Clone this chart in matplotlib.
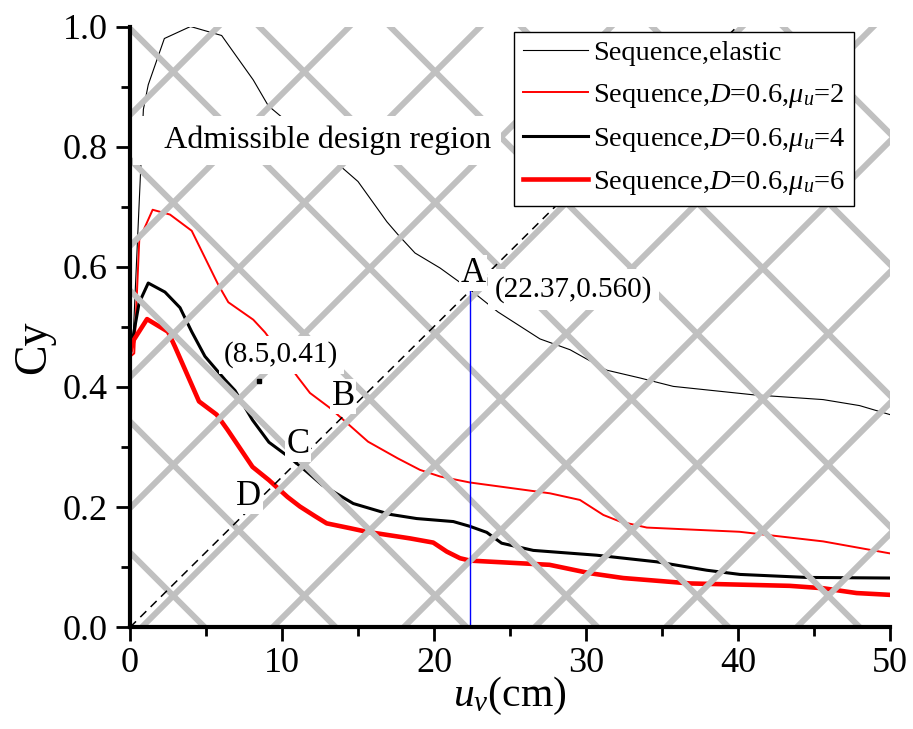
import numpy as np
import matplotlib
matplotlib.use("Agg")
import matplotlib.pyplot as plt
from matplotlib.collections import LineCollection
from matplotlib.transforms import IdentityTransform
from matplotlib.ticker import MultipleLocator, FormatStrFormatter

plt.rcParams['font.family'] = ['Liberation Serif', 'DejaVu Serif']
plt.rcParams['mathtext.fontset'] = 'custom'
plt.rcParams['mathtext.rm'] = 'Liberation Serif'
plt.rcParams['mathtext.it'] = 'Liberation Serif:italic'

# ---------------- data ----------------
elastic_x = [0, 0.22, 0.88, 1.2, 2.26, 3.98, 6.03, 8.11, 9.1, 14.14, 15.0, 16.9, 17.65, 18.75,
             20.4, 22.37, 24.2, 26.97, 28.95, 31.36, 33.55, 35.74, 41.0, 45.6, 48.0, 50]
elastic_y = [0.45, 0.49, 0.862, 0.903, 0.980, 1.000, 0.985, 0.911, 0.868, 0.761, 0.742, 0.675,
             0.653, 0.623, 0.598, 0.562, 0.525, 0.480, 0.462, 0.428, 0.415, 0.401, 0.387,
             0.379, 0.369, 0.354]

mu2_x = [0, 0.28, 0.61, 1.49, 2.63, 4.06, 5.81, 6.47, 8.11, 8.88, 11.05, 11.84, 13.16, 15.66,
         17.63, 19.08, 20.4, 22.37, 27.63, 29.6, 31.14, 32.24, 34.0, 40.1, 45.6, 50]
mu2_y = [0.45, 0.456, 0.645, 0.695, 0.687, 0.660, 0.570, 0.541, 0.512, 0.491, 0.416, 0.390,
         0.365, 0.309, 0.281, 0.262, 0.251, 0.241, 0.223, 0.212, 0.187, 0.176, 0.166, 0.159,
         0.143, 0.123]

mu4_x = [0, 0.25, 0.6, 1.2, 2.30, 3.29, 4.06, 4.93, 6.25, 6.91, 8.06, 9.14, 10.53, 11.63, 12.63,
         14.69, 17.1, 18.86, 21.27, 22.37, 23.47, 24.45, 26.53, 30.7, 34.65, 37.94, 40.13,
         44.52, 50]
mu4_y = [0.45, 0.49, 0.54, 0.573, 0.558, 0.532, 0.492, 0.451, 0.412, 0.394, 0.345, 0.308, 0.282,
         0.259, 0.237, 0.206, 0.188, 0.181, 0.176, 0.168, 0.158, 0.140, 0.128, 0.120, 0.109,
         0.095, 0.088, 0.083, 0.082]

mu6_x = [0, 0.24, 1.12, 2.5, 2.96, 4.54, 5.7, 6.41, 8.06, 9.14, 10.36, 11.18, 12.17, 12.94, 14.47,
         15.57, 18.42, 19.95, 20.84, 21.71, 22.37, 27.6, 30.26, 32.45, 36.84, 43.4, 45.6, 47.8, 50]
mu6_y = [0.457, 0.478, 0.513, 0.492, 0.467, 0.376, 0.354, 0.329, 0.267, 0.245, 0.217, 0.201,
         0.185, 0.173, 0.165, 0.159, 0.148, 0.141, 0.126, 0.115, 0.111, 0.104, 0.090, 0.082,
         0.073, 0.069, 0.065, 0.057, 0.054]

point_A = (22.37, 0.560)
point_P = (8.5, 0.41)
labels = ['Sequence,elastic', r'Sequence,$D$=0.6,$\mu_u$=2',
          r'Sequence,$D$=0.6,$\mu_u$=4', r'Sequence,$D$=0.6,$\mu_u$=6']
x_ticks = [0, 10, 20, 30, 40, 50]
y_ticks = [0.0, 0.2, 0.4, 0.6, 0.8, 1.0]

# ---------------- figure ----------------
fig = plt.figure(figsize=(9.13, 7.29), dpi=100)
ax = fig.add_axes([130 / 913, 1 - 627.3 / 729, 760 / 913, 600.8 / 729])
ax.set_xlim(0, 50)
ax.set_ylim(0, 1.0)

ax.plot(elastic_x, elastic_y, color='black', lw=0.8, label=labels[0], zorder=2)
ax.plot(mu2_x, mu2_y, color='red', lw=1.4, label=labels[1], zorder=2)
ax.plot(mu4_x, mu4_y, color='black', lw=2.2, label=labels[2], zorder=2)
ax.plot(mu6_x, mu6_y, color='red', lw=3.3, label=labels[3], zorder=2)

# gray cross-hatch (decoration), in display pixels
spacing = 131.0
segs = []
for k in range(-10, 20):
    c1 = 175.5 + spacing * k
    segs.append([(-200, c1 + 200), (1200, c1 - 1200)])
    c2 = 40 + spacing * k
    segs.append([(-200, -200 - c2), (1200, 1200 - c2)])
hatch = LineCollection(segs, colors='#c0c0c0', linewidths=4.3, transform=IdentityTransform(),
                       zorder=3)
ax.add_collection(hatch, autolim=False)
hatch.set_clip_path(ax.patch)

# dashed line through the origin and A, blue drop line
slope = point_A[1] / point_A[0]
ax.plot([0, 1.0 / slope], [0, 1.0], color='black', lw=1.1, dashes=(5.5, 4.0), zorder=4)
ax.plot([point_A[0], point_A[0]], [0, point_A[1]], color='blue', lw=1.0, zorder=4)
ax.plot([point_P[0]], [point_P[1]], 's', color='black', ms=3.5, zorder=6)

wb = dict(facecolor='white', edgecolor='none', pad=5)
ax.text(0.8, 0.797, '   Admissible design region', fontsize=23, ha='left', va='baseline',
        bbox=dict(facecolor='white', edgecolor='none', pad=7), zorder=5)
ax.text(24.0, 0.550, '(%.2f,%.3f)' % point_A, fontsize=21, ha='left', va='baseline',
        bbox=wb, zorder=5)
ax.text(6.2, 0.442, '(%.1f,%.2f)' % point_P, fontsize=21, ha='left', va='baseline',
        bbox=dict(facecolor='white', edgecolor='none', pad=4), zorder=5)
small = dict(facecolor='white', edgecolor='none', pad=1)
ax.text(21.75, 0.575, 'A', fontsize=25, ha='left', va='baseline', bbox=small, zorder=5)
ax.text(13.27, 0.370, 'B', fontsize=25, ha='left', va='baseline', bbox=small, zorder=5)
ax.text(10.3, 0.290, 'C', fontsize=25, ha='left', va='baseline', bbox=small, zorder=5)
ax.text(7.0, 0.204, 'D', fontsize=25, ha='left', va='baseline', bbox=small, zorder=5)

leg = ax.legend(loc='upper right', bbox_to_anchor=(0.953, 0.991), borderaxespad=0,
                fontsize=20.5, handlelength=2.3, handletextpad=0.18, labelspacing=0.55,
                borderpad=0.3, fancybox=False, framealpha=1, edgecolor='black')
leg.get_frame().set_linewidth(1.0)
leg.set_zorder(8)

# axes styling
for s in ['top', 'right']:
    ax.spines[s].set_visible(False)
for s in ['left', 'bottom']:
    ax.spines[s].set_linewidth(3)
    ax.spines[s].set_zorder(9)
ax.set_xticks(x_ticks)
ax.set_yticks(y_ticks)
ax.xaxis.set_minor_locator(MultipleLocator(5))
ax.yaxis.set_minor_locator(MultipleLocator(0.1))
ax.yaxis.set_major_formatter(FormatStrFormatter('%.1f'))
ax.tick_params(which='major', direction='out', length=10, width=2, labelsize=26, pad=4)
ax.tick_params(which='minor', direction='out', length=6.5, width=2)
ax.tick_params(axis='y', which='major', pad=6)

ax.set_ylabel('Cy', fontsize=33)
ax.yaxis.set_label_coords(-0.098, 0.466)
ax.set_xlabel(r'$u_v$(cm)', fontsize=30)
ax.xaxis.set_label_coords(0.5, -0.08)

fig.savefig('out.png', dpi=100)
